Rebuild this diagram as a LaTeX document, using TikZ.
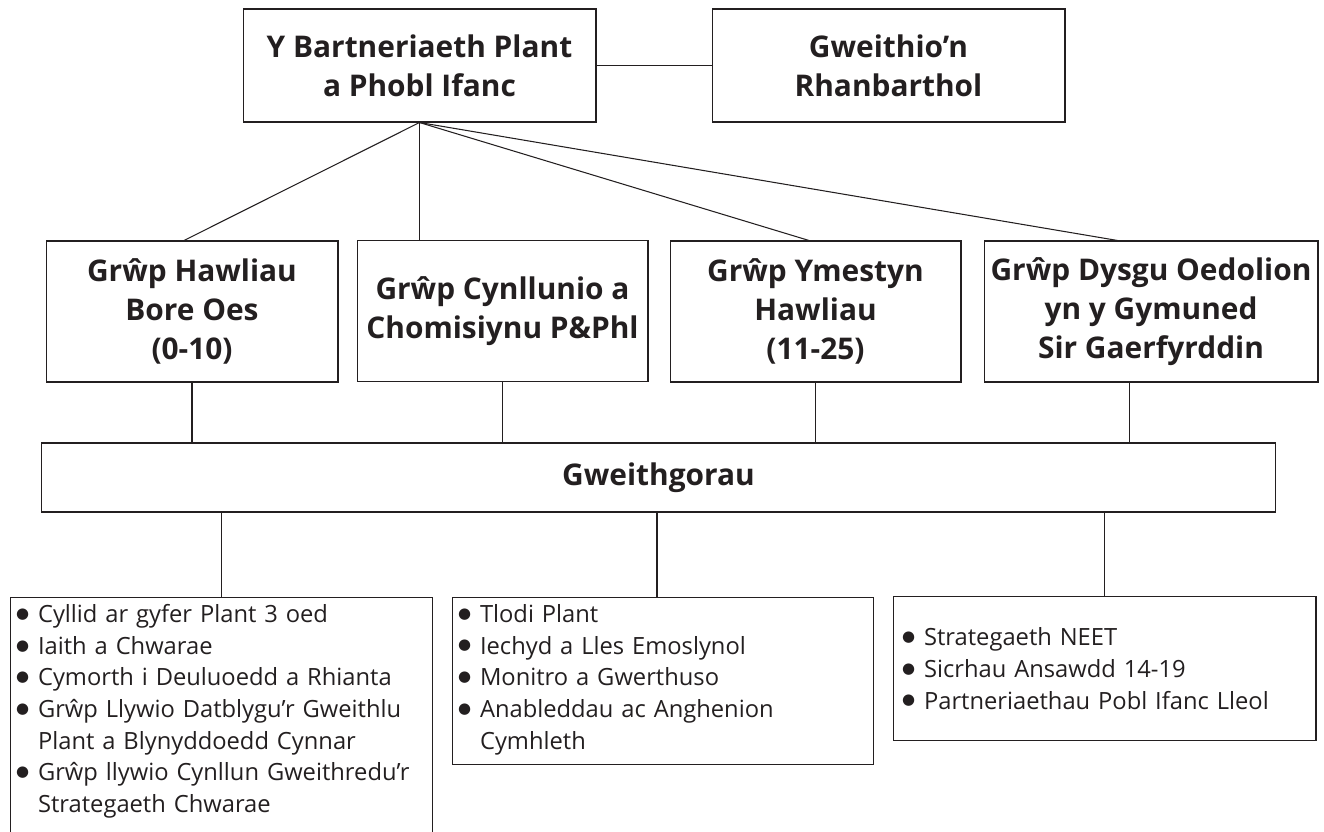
\documentclass[tikz,border=0pt]{standalone}
\usepackage{fontspec}
\setmainfont{Open Sans}
\newfontfamily\dotfont{DejaVu Sans}
\usetikzlibrary{positioning,calc}
\definecolor{ink}{HTML}{231F20}
\tikzset{
    box/.style={
        rectangle,
        draw=ink, line width=0.6pt,
        text=ink,
        align=center,
        font=\fontsize{17}{22}\selectfont\bfseries,
        inner sep=2pt
    },
    listbox/.style={
        rectangle,
        draw=ink, line width=0.6pt,
        text=ink,
        align=left,
        font=\fontsize{13.5}{18}\selectfont,
        inner xsep=0.12cm,
        inner ysep=0.14cm
    },
    link/.style={draw=ink, line width=0.6pt}
}
\newcommand{\blt}[1]{\hangindent=0.44cm\hangafter=1\noindent\makebox[0.44cm][l]{\raisebox{2.4pt}{\dotfont\fontsize{8.5}{10}\selectfont ●}}#1\par}

\begin{document}
\begin{tikzpicture}[x=0.02cm, y=-0.02cm]
    \useasboundingbox (0,0) rectangle (1324,831);
    \clip (0,0) rectangle (1324,831);

    % partneriaeth
    \node[box, minimum width=7.06cm, minimum height=2.26cm] (top) at (419.5,65.5) {Y Bartneriaeth Plant\\a Phobl Ifanc};
    \node[box, minimum width=7.06cm, minimum height=2.26cm] (region) at (888.5,65.5) {Gweithio’n\\Rhanbarthol};

    % grwpiau
    \node[box, minimum width=5.84cm, minimum height=2.82cm] (G1) at (192,311.5) {Grŵp Hawliau\\Bore Oes\\(0-10)};
    \node[box, minimum width=5.82cm, minimum height=2.82cm] (G2) at (502.5,311) {Grŵp Cynllunio a\\Chomisiynu P\&Phl};
    \node[box, minimum width=5.82cm, minimum height=2.82cm] (G3) at (815.5,311.5) {Grŵp Ymestyn\\Hawliau\\(11-25)};
    \node[box, minimum width=6.68cm, minimum height=2.82cm] (G4) at (1151,311.5) {Grŵp Dysgu Oedolion\\yn y Gymuned\\Sir Gaerfyrddin};

    \node[box, minimum width=24.7cm, minimum height=1.38cm] (work) at (658.5,477.5) {Gweithgorau};

    % gweithgorau
    \node[listbox, text width=8.22cm, anchor=north] (W1) at (221.5,597) {%
        \blt{Cyllid ar gyfer Plant 3 oed}
        \blt{Iaith a Chwarae}
        \blt{Cymorth i Deuluoedd a Rhianta}
        \blt{Grŵp Llywio Datblygu’r Gweithlu\newline Plant a Blynyddoedd Cynnar}
        \blt{Grŵp llywio Cynllun Gweithredu’r\newline Strategaeth Chwarae\rule[-1.2cm]{0pt}{0pt}}};
    \node[listbox, text width=8.2cm, anchor=north] (W2) at (663,597) {%
        \blt{Tlodi Plant}
        \blt{Iechyd a Lles Emoslynol}
        \blt{Monitro a Gwerthuso}
        \blt{Anableddau ac Anghenion\newline Cymhleth\rule[-0.16cm]{0pt}{0pt}}};
    \node[listbox, text width=8.1cm, inner xsep=0.18cm, minimum height=2.88cm, anchor=north] (W3) at (1104.5,596) {%
        \blt{Strategaeth NEET}
        \blt{Sicrhau Ansawdd 14-19}
        \blt{Partneriaethau Pobl Ifanc Lleol}};

    \draw[link] (top) -- (region);
    \draw[link] (top.south) -- ([xshift=-0.16cm]G1.north);
    \draw[link] (top.south) -- (top.south |- G2.north);
    \draw[link] (top.south) -- ([xshift=-0.13cm]G3.north);
    \draw[link] (top.south) -- ([xshift=-0.67cm]G4.north);

    \foreach \g in {G1,G2,G3}
        \draw[link] (\g.south) -- (\g.south |- work.north);
    \draw[link] ([xshift=-0.43cm]G4.south) -- ([xshift=-0.43cm]G4.south |- work.north);

    \foreach \w in {W1,W3}
        \draw[link] (\w.north |- work.south) -- (\w.north);
    \draw[link] ([xshift=-0.12cm]W2.north |- work.south) -- ([xshift=-0.12cm]W2.north);
\end{tikzpicture}
\end{document}
